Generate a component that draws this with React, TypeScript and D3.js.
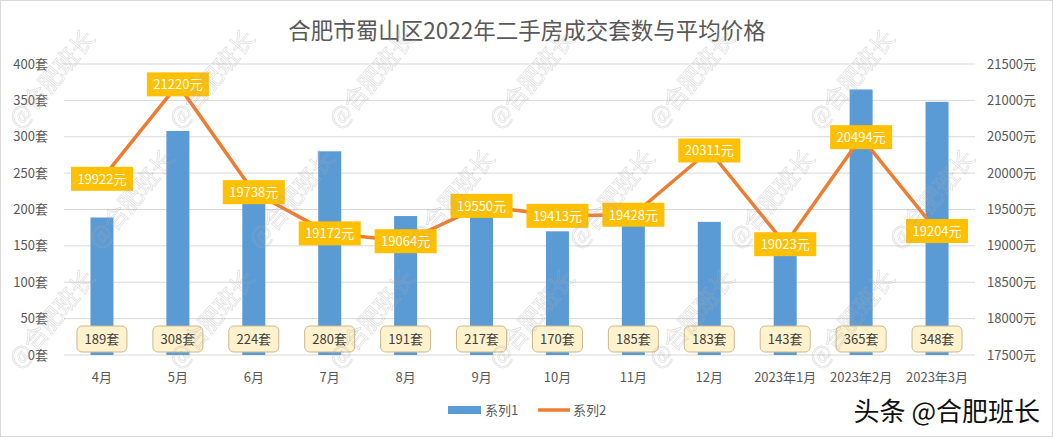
import React from "react";
import * as d3 from "d3";

const categories = ["4月", "5月", "6月", "7月", "8月", "9月", "10月", "11月", "12月", "2023年1月", "2023年2月", "2023年3月"];
const counts = [189, 308, 224, 280, 191, 217, 170, 185, 183, 143, 365, 348];
const prices = [19922, 21220, 19738, 19172, 19064, 19550, 19413, 19428, 20311, 19023, 20494, 19204];
const leftTicks = [0, 50, 100, 150, 200, 250, 300, 350, 400];
const rightTicks = [17500, 18000, 18500, 19000, 19500, 20000, 20500, 21000, 21500];
const title = "合肥市蜀山区2022年二手房成交套数与平均价格";
const seriesNames = ["系列1", "系列2"];

const W = 1053, H = 437;
const FONT = "'Noto Sans CJK SC', 'Microsoft YaHei', sans-serif";

export default function App() {
  const band = d3.scaleBand<string>().domain(categories).range([64, 975]);
  const yL = d3.scaleLinear().domain([0, 400]).range([355, 64]);
  const yR = d3.scaleLinear().domain([17500, 21500]).range([355, 64]);
  const cx = (c: string) => band(c)! + band.bandwidth() / 2;
  const line = d3.line<number>().x((_, i) => cx(categories[i])).y((d) => yR(d));
  const bw = 23;

  const marks: { x: number; y: number }[] = [];
  for (let r = 0; r < 4; r++) {
    for (let c = 0; c < 8; c++) {
      const mx = c * 160 + (r % 2) * 80 + 20;
      const my = r * 120 + 130;
      if (mx >= 5 && mx + 85 <= 1045 && my - 100 >= 5 && my <= 430) marks.push({ x: mx, y: my });
    }
  }

  return (
    <svg width={W} height={H} style={{ position: "absolute", left: 0, top: 0, fontFamily: FONT }}>
      <rect x={0.5} y={0.5} width={W - 1} height={H - 1} fill="#fff" stroke="#d9d9d9" />
      <text x={527} y={39} textAnchor="middle" fontSize={22.5} fill="#595959">{title}</text>
      {leftTicks.map((t) => (
        <g key={"l" + t}>
          <line x1={64} x2={975} y1={yL(t)} y2={yL(t)} stroke="#d9d9d9" strokeWidth={1} />
          <text x={48} y={yL(t) + 4.5} textAnchor="end" fontSize={13} fill="#595959">{t}套</text>
        </g>
      ))}
      {rightTicks.map((t) => (
        <text key={"r" + t} x={987} y={yR(t) + 4.5} textAnchor="start" fontSize={13} fill="#595959">{t}元</text>
      ))}
      {categories.map((c, i) => (
        <rect key={"b" + c} x={cx(c) - bw / 2} y={yL(counts[i])} width={bw} height={355 - yL(counts[i])} fill="#5B9BD5" />
      ))}
      {categories.map((c) => (
        <text key={"x" + c} x={cx(c)} y={382} textAnchor="middle" fontSize={13} fill="#595959">{c}</text>
      ))}
      <path d={line(prices)!} fill="none" stroke="#ED7D31" strokeWidth={3.5} strokeLinejoin="round" />
      {categories.map((c, i) => (
        <g key={"p" + c}>
          <rect x={cx(c) - 31} y={yR(prices[i]) - 12} width={62} height={24} fill="#FFC000" />
          <text x={cx(c)} y={yR(prices[i]) + 5} textAnchor="middle" fontSize={13} fill="#fff">{prices[i]}元</text>
        </g>
      ))}
      {categories.map((c, i) => (
        <g key={"c" + c}>
          <rect x={cx(c) - 25} y={326} width={50} height={26} rx={5} fill="#FFF2CC" stroke="#C9B98E" />
          <text x={cx(c)} y={344} textAnchor="middle" fontSize={13} fill="#404040">{counts[i]}套</text>
        </g>
      ))}
      <rect x={448} y={406} width={33} height={8} fill="#5B9BD5" />
      <text x={485} y={415} fontSize={13} fill="#595959">{seriesNames[0]}</text>
      <line x1={538} x2={570} y1={410} y2={410} stroke="#ED7D31" strokeWidth={3.5} />
      <text x={573} y={415} fontSize={13} fill="#595959">{seriesNames[1]}</text>
      <g opacity={0.4}>
        {marks.map((m, i) => (
          <text key={"w" + i} x={m.x} y={m.y} fontSize={24} fill="none" stroke="#aaa" strokeWidth={0.7}
            transform={`rotate(-50 ${m.x} ${m.y})`}>@合肥班长</text>
        ))}
      </g>
      <text x={1040} y={421} textAnchor="end" fontSize={26} fill="#111" stroke="#fff" strokeWidth={3} paintOrder="stroke">头条 @合肥班长</text>
    </svg>
  );
}
